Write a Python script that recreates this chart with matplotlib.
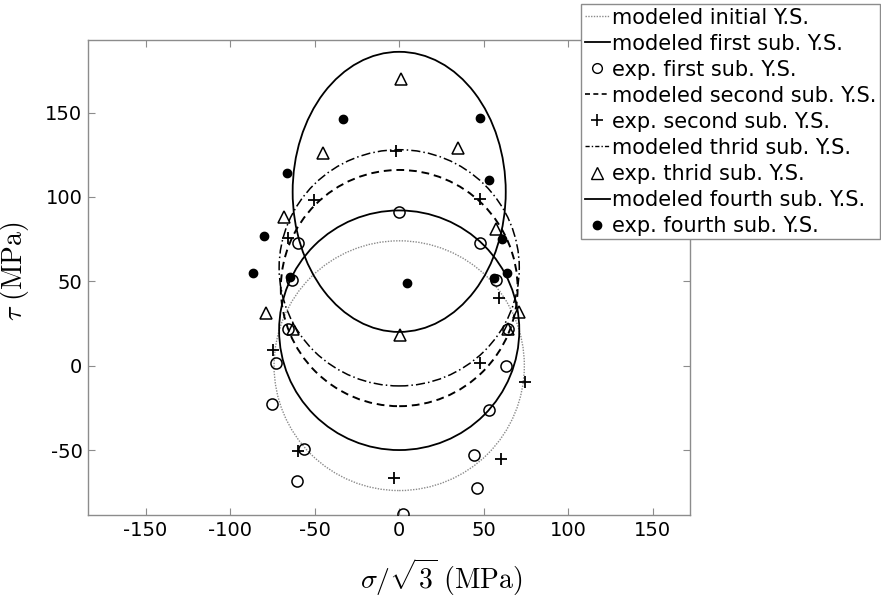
import matplotlib
matplotlib.use("Agg")
from matplotlib import pyplot as plt
from matplotlib.patches import Ellipse
from matplotlib.lines import Line2D

plt.rcParams["font.family"] = ["DejaVu Sans"]
plt.rcParams["mathtext.fontset"] = "cm"
plt.rcParams["axes.unicode_minus"] = False

# modeled yield surfaces: centre (x, y), semi-axis x, semi-axis y
surf_names = ["initial", "first", "second", "thrid", "fourth"]
surf_cx = [0, 0, 0, 0, 0]
surf_cy = [0, 21, 46, 58, 103]
surf_ax = [74, 71, 70, 71, 63]
surf_ay = [74, 71, 70, 70, 83]

# experimental points
exp1_x = [0, -60, 48, -63.5, 57, -65.5, 64.5, -73, 63, -75, 53, -56.5, 44, -60.5, 46, 2.5]
exp1_y = [91, 73, 73, 51, 51, 22, 22, 1.4, 0, -23, -26, -49.6, -53, -68.4, -72.7, -87.6]

exp2_x = [-2, -50.5, 47.5, -65.5, 59, -74.4, 48, 74.6, -59.6, 60.4, -3.2]
exp2_y = [127.5, 98, 99, 75.6, 40, 9, 1.4, -9.5, -50.4, -55.3, -66.4]

exp3_x = [1, -45, 35, -68, 57.4, -78.7, 71, -62.5, 64.3, 0.6]
exp3_y = [170, 126, 129, 88, 81, 31, 32, 22, 22, 18]

exp4_x = [-33, 47.5, -66.5, 53, -80, 61, -86.5, -64.5, 4.5, 64, 56]
exp4_y = [146, 147, 114, 110, 77, 75, 55, 52.5, 49, 55, 52]

xticks = [-150, -100, -50, 0, 50, 100, 150]
yticks = [-50, 0, 50, 100, 150]

SPINE = "#8c8c8c"

fig = plt.figure(figsize=(8.81, 5.99), dpi=100)
ax = fig.add_axes([0.0999, 0.1402, 0.6834, 0.7930])

styles = [
    dict(color="#8a8a8a", lw=1.0, ls=(0, (1, 1))),
    dict(color="black", lw=1.3, ls="-"),
    dict(color="black", lw=1.4, ls=(0, (4, 2.5))),
    dict(color="black", lw=1.1, ls=(0, (6, 2, 1, 2))),
    dict(color="black", lw=1.3, ls="-"),
]

for i in range(len(surf_names)):
    st = styles[i]
    ax.add_patch(Ellipse((surf_cx[i], surf_cy[i]), 2 * surf_ax[i], 2 * surf_ay[i],
                         fill=False, edgecolor=st["color"], lw=st["lw"],
                         linestyle=st["ls"], zorder=2))

mk = dict(ls="none", color="black", zorder=3)
ax.plot(exp1_x, exp1_y, marker="o", mfc="none", ms=8, mew=1.1, **mk)
ax.plot(exp2_x, exp2_y, marker="+", ms=9, mew=1.3, **mk)
ax.plot(exp3_x, exp3_y, marker="^", mfc="none", ms=9, mew=1.1, **mk)
ax.plot(exp4_x, exp4_y, marker="o", ms=6, **mk)

ax.set_xlim(-184, 172)
ax.set_ylim(-88.5, 193)
ax.set_xticks(xticks)
ax.set_yticks(yticks)
ax.tick_params(direction="in", length=5, width=0.8, color=SPINE,
               labelsize=14, top=True, right=True, pad=4)
for s in ax.spines.values():
    s.set_color(SPINE)
    s.set_linewidth(1.0)

fig.text(441 / 881, 1 - 577 / 599, r"$\sigma/\sqrt{3}\ \mathrm{(MPa)}$",
         fontsize=20, ha="center", va="center")
fig.text(15 / 881, 1 - 271 / 599, r"$\tau\ \mathrm{(MPa)}$",
         fontsize=20, ha="center", va="center", rotation=90)

handles = [
    Line2D([], [], color="#8a8a8a", lw=1.0, ls=(0, (1, 1))),
    Line2D([], [], color="black", lw=1.3),
    Line2D([], [], marker="o", mfc="none", ms=7, mew=1.0, ls="none", color="black"),
    Line2D([], [], color="black", lw=1.2, ls=(0, (3, 2))),
    Line2D([], [], marker="+", ms=9, mew=1.2, ls="none", color="black"),
    Line2D([], [], color="black", lw=1.0, ls=(0, (3, 1.5, 1, 1.5))),
    Line2D([], [], marker="^", mfc="none", ms=8, mew=1.0, ls="none", color="black"),
    Line2D([], [], color="black", lw=1.3),
    Line2D([], [], marker="o", ms=6, ls="none", color="black"),
]
labels = [
    "modeled initial Y.S.",
    "modeled first sub. Y.S.",
    "exp. first sub. Y.S.",
    "modeled second sub. Y.S.",
    "exp. second sub. Y.S.",
    "modeled thrid sub. Y.S.",
    "exp. thrid sub. Y.S.",
    "modeled fourth sub. Y.S.",
    "exp. fourth sub. Y.S.",
]
leg = fig.legend(handles, labels, loc="upper right", bbox_to_anchor=(880 / 881, 1 - 4 / 599),
                 fontsize=15, frameon=True, fancybox=False, edgecolor=SPINE,
                 framealpha=1, handlelength=1.2, handletextpad=0.12,
                 labelspacing=0.29, borderpad=0.17, borderaxespad=0, numpoints=1)
leg.get_frame().set_linewidth(1.0)

fig.savefig("out.png", dpi=100)
